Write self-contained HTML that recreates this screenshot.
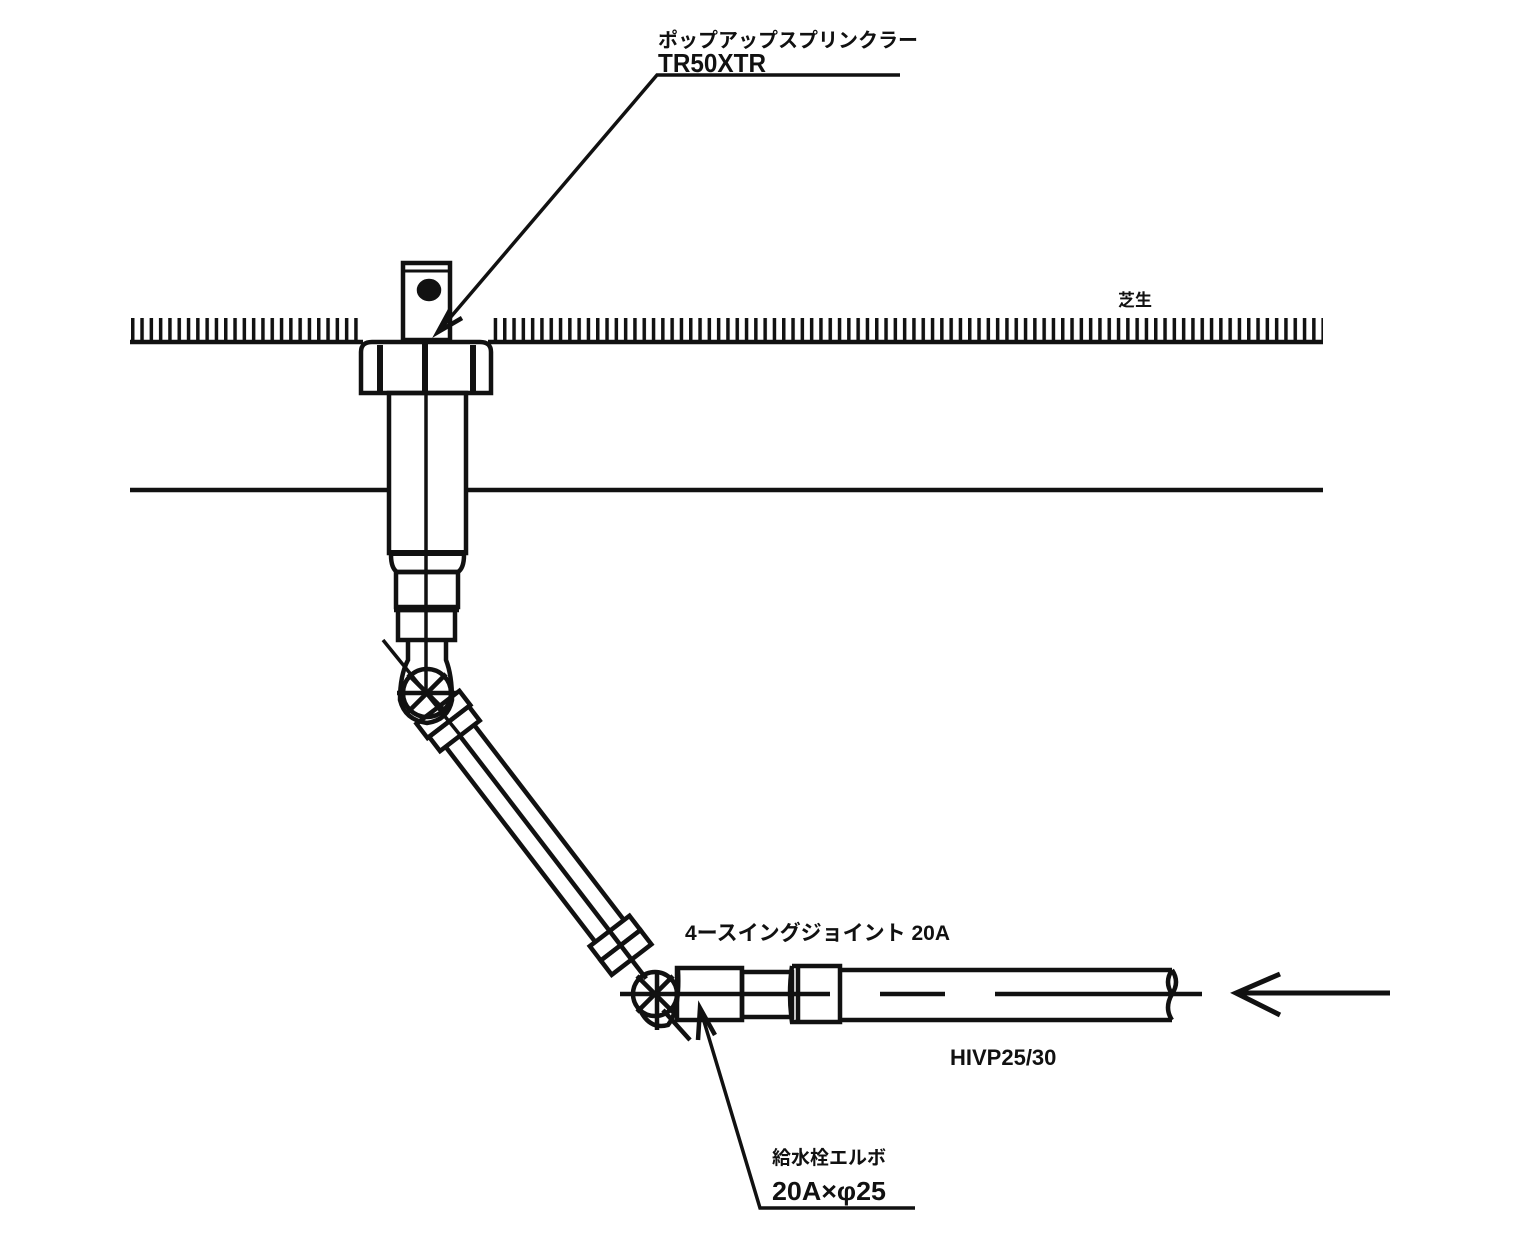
<!DOCTYPE html>
<html><head><meta charset="utf-8"><style>
html,body{margin:0;padding:0;background:#fff;}
svg{display:block;}
text{font-family:"Liberation Sans","Noto Sans CJK JP",sans-serif;font-weight:bold;fill:#111;}
</style></head><body>
<svg width="1533" height="1235" viewBox="0 0 1533 1235" xmlns="http://www.w3.org/2000/svg">
<defs>
<pattern id="h" x="131" y="0" width="9.3" height="30" patternUnits="userSpaceOnUse">
<rect x="0" y="0" width="3.5" height="30" fill="#111"/>
</pattern>
</defs>
<g stroke="#111" fill="none" stroke-width="4.5">
<rect x="131" y="318" width="232" height="23" fill="url(#h)" stroke="none"/>
<rect x="489" y="318" width="834" height="23" fill="url(#h)" stroke="none"/>
<line x1="130" y1="342" x2="363" y2="342"/>
<line x1="488" y1="342" x2="1323" y2="342"/>
<line x1="130" y1="490" x2="389" y2="490"/>
<line x1="466" y1="490" x2="1323" y2="490"/>

<rect x="403" y="263" width="47" height="77"/>
<line x1="405" y1="271" x2="448" y2="271" stroke-width="3"/>
<ellipse cx="429" cy="290" rx="10" ry="9" fill="#111"/>
<path d="M361 393 V352 Q361 342 372 342 H480 Q491 342 491 352 V393 Z"/>
<line x1="380" y1="345" x2="380" y2="392" stroke-width="6"/>
<line x1="473" y1="345" x2="473" y2="392" stroke-width="6"/>
<line x1="425" y1="343" x2="425" y2="392" stroke-width="6"/>
<rect x="389" y="393" width="77" height="160"/>
<line x1="426" y1="393" x2="426" y2="690" stroke-width="3.5"/>
<line x1="389" y1="553" x2="466" y2="553" stroke-width="6"/>
<path d="M391 555 Q391 568 397 572 H458 Q464 568 464 555"/>
<rect x="396" y="572" width="62" height="35"/>
<rect x="398" y="610" width="57" height="30"/>
<line x1="394" y1="610" x2="459" y2="610"/>
<path d="M408 640 V660 Q400 675 400 700 Q405 720 427 723 Q448 720 452 700 Q452 675 446 660 V640"/>
<circle cx="427" cy="693" r="24"/>
<line x1="397" y1="693" x2="457" y2="693"/>
<line x1="408" y1="674" x2="446" y2="712"/>
<line x1="446" y1="674" x2="408" y2="712"/>
<line x1="383" y1="640" x2="460" y2="735" stroke-width="3.5"/>
<g transform="translate(427,693) rotate(52.5)">
<rect x="18" y="-27" width="18" height="54"/>
<rect x="36" y="-25" width="18" height="50"/>
<line x1="54" y1="-18" x2="300" y2="-18"/>
<line x1="54" y1="18" x2="300" y2="18"/>
<line x1="54" y1="0" x2="360" y2="0"/>
<rect x="300" y="-25" width="18" height="50"/>
<rect x="318" y="-25" width="18" height="50"/>
</g>
<circle cx="655" cy="994" r="22"/>
<path d="M640 1010 Q650 1030 668 1025 Q680 1010 678 970"/>
<line x1="637" y1="976" x2="673" y2="1012"/>
<line x1="673" y1="976" x2="637" y2="1012"/>
<line x1="657" y1="1030" x2="657" y2="970"/>
<line x1="663" y1="1010" x2="690" y2="1040"/>
<rect x="677" y="968" width="65" height="52"/>
<rect x="742" y="972" width="50" height="45"/>
<path d="M792 966 H840 V1022 H792 Q788 994 792 966"/>
<line x1="798" y1="966" x2="798" y2="1022"/>
<line x1="840" y1="970" x2="1172" y2="970"/>
<line x1="840" y1="1020" x2="1172" y2="1020"/>
<path d="M1172 970 Q1180 982 1172 994 Q1164 1008 1172 1020"/>
<path d="M1172 970 Q1164 982 1172 994"/>
<line x1="620" y1="994" x2="830" y2="994"/>
<line x1="880" y1="994" x2="945" y2="994"/>
<line x1="995" y1="994" x2="1160" y2="994"/>
<line x1="1160" y1="994" x2="1202" y2="994"/>
<line x1="1236" y1="993" x2="1390" y2="993" stroke-width="5"/>
<polyline points="1280,974 1236,993 1280,1015" stroke-width="5"/>
<polyline points="438,332 657,75 900,75" stroke-width="3.5"/>
<polyline points="450,310 438,332 462,318"/>
<polyline points="700,1008 760,1208 915,1208" stroke-width="3.5"/>
<polyline points="698,1040 700,1008 715,1035"/>
</g>
<text x="658" y="47" font-size="20">ポップアップスプリンクラー</text>
<text x="658" y="72" font-size="26" textLength="108" lengthAdjust="spacingAndGlyphs">TR50XTR</text>
<text x="1118" y="306" font-size="17">芝生</text>
<text x="685" y="940" font-size="21">4ースイングジョイント 20A</text>
<text x="950" y="1065" font-size="22">HIVP25/30</text>
<text x="772" y="1164" font-size="19">給水栓エルボ</text>
<text x="772" y="1200" font-size="26" textLength="114" lengthAdjust="spacingAndGlyphs">20A×φ25</text>
</svg>
</body></html>
